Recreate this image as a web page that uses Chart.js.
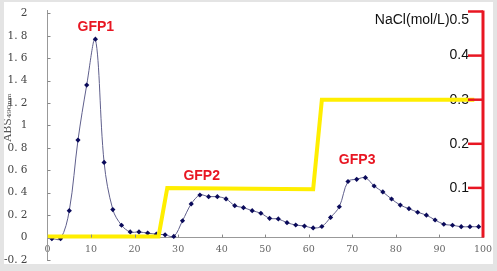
<!DOCTYPE html>
<html>
<head>
<meta charset="utf-8">
<script src="https://cdn.jsdelivr.net/npm/chart.js@4/dist/chart.umd.min.js"></script>
<style>
body { margin: 0; background: #e4e4e4; }
#box { position: absolute; left: 4px; top: 2px; width: 489px; height: 262px; background: #fff; }
</style>
</head>
<body>
<div id="box"><canvas id="myChart"></canvas></div>
<script>
// elution fractions and absorbance
const fractions = [1, 3, 5, 7, 9, 11, 13, 15, 17, 19, 21, 23, 25, 27, 29, 31, 33, 35, 37, 39,
  41, 43, 45, 47, 49, 51, 53, 55, 57, 59, 61, 63, 65, 67, 69, 71, 73, 75, 77, 79,
  81, 83, 85, 87, 89, 91, 93, 95, 97, 99];
const absValues = [-0.01, -0.01, 0.24, 0.87, 1.36, 1.77, 0.67, 0.25, 0.11, 0.05, 0.05, 0.04, 0.03, 0.025, 0.01, 0.15, 0.30, 0.38, 0.365, 0.365,
  0.345, 0.285, 0.267, 0.24, 0.217, 0.172, 0.166, 0.133, 0.112, 0.103, 0.086, 0.099, 0.18, 0.275, 0.50, 0.52, 0.534, 0.46, 0.407, 0.344,
  0.29, 0.258, 0.226, 0.20, 0.157, 0.119, 0.11, 0.097, 0.097, 0.097];

// NaCl step gradient
const naclX = [0, 25.5, 27.5, 61, 63, 98];
const naclValues = [-0.01, -0.01, 0.1, 0.097, 0.3, 0.3];

const xTicks = [0, 10, 20, 30, 40, 50, 60, 70, 80, 90, 100];
const absTicks = [-0.2, 0, 0.2, 0.4, 0.6, 0.8, 1, 1.2, 1.4, 1.6, 1.8, 2];
const naclTicks = [0.1, 0.2, 0.3, 0.4, 0.5];

const peakNames = ['GFP1', 'GFP2', 'GFP3'];
const peakX = [11.1, 35.4, 71.1];
const peakY = [1.88, 0.55, 0.69];

const red = 'rgb(232, 22, 34)';

const extras = {
  id: 'extras',
  afterDraw(chart) {
    const ctx = chart.ctx;
    const x = chart.scales.x, y = chart.scales.y, y2 = chart.scales.y2;
    const left = chart.chartArea.left, right = chart.chartArea.right;
    const y0 = y.getPixelForValue(0);
    ctx.save();
    // small inward tick marks
    ctx.strokeStyle = '#888';
    ctx.lineWidth = 1;
    absTicks.forEach(v => {
      const py = Math.round(y.getPixelForValue(v)) + 0.5;
      ctx.beginPath(); ctx.moveTo(left, py); ctx.lineTo(left + 3, py); ctx.stroke();
    });
    xTicks.slice(1, -1).forEach(v => {
      const px = Math.round(x.getPixelForValue(v)) + 0.5;
      ctx.beginPath(); ctx.moveTo(px, y0); ctx.lineTo(px, y0 - 3); ctx.stroke();
    });
    // red NaCl axis
    ctx.strokeStyle = red;
    ctx.lineWidth = 3;
    ctx.beginPath();
    ctx.moveTo(right, y2.getPixelForValue(0.5) - 1);
    ctx.lineTo(right, y0);
    ctx.stroke();
    ctx.lineWidth = 2.5;
    naclTicks.forEach(v => {
      const py = y2.getPixelForValue(v);
      ctx.beginPath(); ctx.moveTo(right - 15, py); ctx.lineTo(right, py); ctx.stroke();
    });
    // peak names
    ctx.fillStyle = red;
    ctx.font = 'bold 14px "Liberation Sans"';
    ctx.textAlign = 'center';
    ctx.textBaseline = 'middle';
    peakNames.forEach((name, i) => {
      ctx.fillText(name, x.getPixelForValue(peakX[i]), y.getPixelForValue(peakY[i]));
    });
    ctx.restore();
  }
};

const data = {
  datasets: [{
    label: 'NaCl',
    data: naclX.map((v, i) => ({x: v, y: naclValues[i]})),
    yAxisID: 'y2',
    borderColor: 'rgb(255, 238, 0)',
    borderWidth: 4,
    pointRadius: 0,
    tension: 0
  }, {
    label: 'ABS',
    data: fractions.map((v, i) => ({x: v, y: absValues[i]})),
    yAxisID: 'y',
    borderColor: 'rgb(95, 95, 140)',
    borderWidth: 1,
    pointStyle: 'rectRot',
    pointRadius: 2.6,
    pointBackgroundColor: 'rgb(10, 10, 90)',
    pointBorderColor: 'rgb(10, 10, 90)',
    pointBorderWidth: 0,
    tension: 0.35
  }]
};

const noPad = s => { s.paddingTop = 0; s.paddingBottom = 0; s.paddingLeft = 0; s.paddingRight = 0; };

const config = {
  type: 'line',
  data: data,
  plugins: [extras],
  options: {
    responsive: true,
    maintainAspectRatio: false,
    animation: false,
    layout: { padding: { top: 8, bottom: 4, left: 0, right: 0 } },
    plugins: { legend: { display: false }, tooltip: { enabled: false } },
    scales: {
      x: {
        type: 'linear',
        position: { y: 0 },
        min: 0,
        max: 100,
        afterBuildTicks: s => { s.ticks = xTicks.map(v => ({value: v})); },
        afterFit: s => { noPad(s); s.height = 0; },
        grid: { display: false, drawTicks: false },
        border: { display: true, color: '#999', width: 1 },
        ticks: { padding: 6, color: '#666', font: { family: '"DejaVu Serif"', size: 9.5 } }
      },
      y: {
        position: 'left',
        min: -0.2,
        max: 2.03,
        afterBuildTicks: s => { s.ticks = absTicks.map(v => ({value: v})); },
        afterFit: s => { noPad(s); s.width = 43.5; },
        grid: { display: false },
        border: { display: true, color: '#999', width: 1 },
        ticks: {
          padding: 12,
          color: '#444',
          font: { family: '"DejaVu Serif"', size: 10.5 },
          callback: v => v.toFixed(1).replace('.0', '').replace('.', '. ')
        },
        title: {
          display: true,
          text: '          ABS₄₉₀ₙₘ',
          color: '#555',
          padding: { top: -2, bottom: 0 },
          font: { family: '"DejaVu Serif"', size: 11 }
        }
      },
      y2: {
        position: 'right',
        min: -0.0635,
        max: 0.5034,
        afterBuildTicks: s => { s.ticks = naclTicks.map(v => ({value: v})); },
        afterFit: s => { noPad(s); s.width = 10; },
        grid: { display: false },
        border: { display: false },
        ticks: {
          mirror: true,
          padding: -14,
          color: '#111',
          font: { family: '"Liberation Sans"', size: 14 },
          callback: v => (v === 0.5 ? ['', 'NaCl(mol/L)0.5'] : v.toFixed(1))
        }
      }
    }
  }
};

const myChart = new Chart(document.getElementById('myChart'), config);
</script>
</body>
</html>
